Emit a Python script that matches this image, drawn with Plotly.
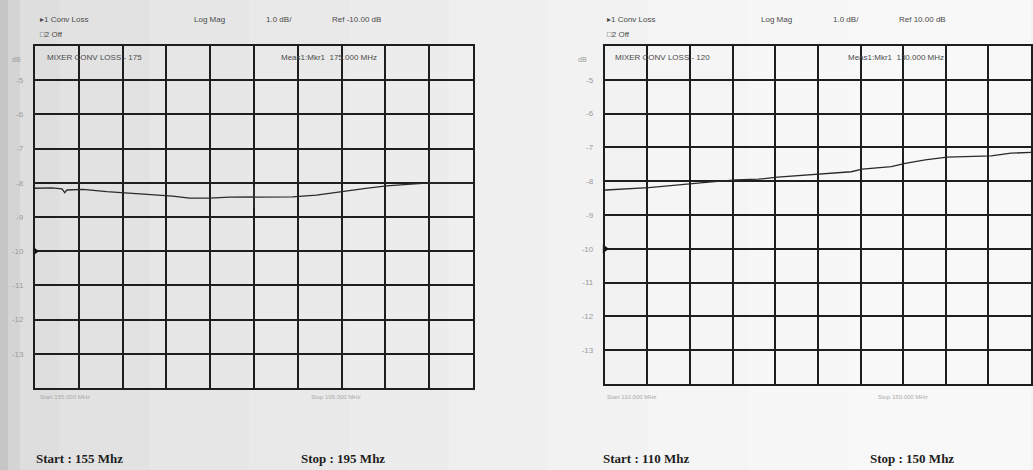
import plotly.graph_objects as go

W, H = 1033, 470

# ---- data ----
left_freq_mhz = [155.0, 156.55, 157.46, 157.73, 157.92, 159.37, 161.56, 163.66, 166.12, 167.57,
                 169.12, 170.95, 172.77, 174.87, 178.5, 180.7, 182.8, 185.2, 187.1, 188.9, 191.0, 195.0]
left_loss_db = [-8.16, -8.15, -8.18, -8.29, -8.21, -8.19, -8.26, -8.31, -8.36, -8.39,
                -8.45, -8.45, -8.42, -8.41, -8.41, -8.36, -8.26, -8.16, -8.09, -8.04, -8.00, -8.01]
left_marker_mhz = [175.0]
left_marker_db = [-8.41]

right_freq_mhz = [110.0, 110.09, 114.12, 118.15, 120.02, 122.27, 124.43, 126.21, 130.23, 133.13,
                  134.17, 136.89, 138.2, 140.07, 142.13, 146.26, 148.13, 150.0]
right_loss_db = [-8.27, -8.26, -8.19, -8.06, -8.02, -7.96, -7.94, -7.88, -7.79, -7.72,
                 -7.64, -7.57, -7.47, -7.37, -7.29, -7.25, -7.17, -7.15]

y_tick_vals = [-5, -6, -7, -8, -9, -10, -11, -12, -13]
y_tick_text = ["-5", "-6", "-7", "-8", "-9", "-10", "-11", "-12", "-13"]
ref_level_db = -10.0

left_header = ["\u25b81 Conv Loss", "Log Mag", "1.0 dB/", "Ref -10.00 dB"]
right_header = ["\u25b81 Conv Loss", "Log Mag", "1.0 dB/", "Ref 10.00 dB"]
left_title, right_title = "MIXER CONV LOSS - 175", "MIXER CONV LOSS - 120"
left_meas, right_meas = "Meas1:Mkr1  175.000 MHz", "Meas1:Mkr1  130.000 MHz"
left_small = ["Start 155.000 MHz", "Stop 195.000 MHz"]
right_small = ["Start 110.000 MHz", "Stop 150.000 MHz"]
left_caption = ["Start : 155 Mhz", "Stop : 195 Mhz"]
right_caption = ["Start : 110 Mhz", "Stop : 150 Mhz"]

fig = go.Figure()
trace_style = dict(mode="lines", line=dict(color="#2a2a2a", width=1.3), showlegend=False, hoverinfo="skip")
fig.add_trace(go.Scatter(x=left_freq_mhz, y=left_loss_db, xaxis="x", yaxis="y", **trace_style))
fig.add_trace(go.Scatter(x=left_marker_mhz, y=left_marker_db, xaxis="x", yaxis="y", mode="markers",
                         marker=dict(symbol="line-ns", size=16, line=dict(color="#333", width=1.6)),
                         showlegend=False, hoverinfo="skip"))
fig.add_trace(go.Scatter(x=right_freq_mhz, y=right_loss_db, xaxis="x2", yaxis="y2", **trace_style))


def px(x):
    return x / W


def py(y):
    return 1 - y / H


grid = dict(showgrid=True, gridcolor="#1e1e1e", gridwidth=1.6, showline=True, linecolor="#1e1e1e",
            linewidth=2, mirror=True, zeroline=False, ticks="")
yax = dict(range=[-14, -4], tickmode="array", tickvals=y_tick_vals, ticktext=y_tick_text,
           tickfont=dict(family="Liberation Sans", size=8, color="#9a9a9a"), ticklabelstandoff=8, **grid)

fig.update_layout(
    width=W, height=H, margin=dict(l=0, r=0, t=0, b=0),
    paper_bgcolor="#f3f3f3", plot_bgcolor="rgba(0,0,0,0)",
    xaxis=dict(domain=[px(35), px(474)], range=[155, 195], dtick=4, tick0=155, showticklabels=False, **grid),
    yaxis=dict(domain=[py(388), py(46)], anchor="x", **yax),
    xaxis2=dict(domain=[px(606), 1.0], range=[110, 150], dtick=4, tick0=110, showticklabels=False,
                anchor="y2", **grid),
    yaxis2=dict(domain=[py(384), py(46)], anchor="x2", **yax),
)

# background scan tones: smooth horizontal fade (paper strips)
edges = [(0, 198), (8, 212), (20, 222), (60, 226), (150, 230), (250, 233), (350, 236), (450, 239),
         (550, 242), (650, 245), (750, 247), (850, 248), (1033, 249)]
for (a, ca), (b, _) in zip(edges[:-1], edges[1:]):
    c = "rgb(%d,%d,%d)" % (ca, ca, ca)
    fig.add_shape(type="rect", xref="paper", yref="paper", x0=px(a), x1=px(b), y0=0, y1=1,
                  fillcolor=c, line=dict(width=0), layer="below")

ann = []
hdr_font = dict(family="Liberation Sans", size=8, color="#4a4a4a")


def txt(x, y, s, font=hdr_font, anchor="left"):
    ann.append(dict(x=px(x), y=py(y), xref="paper", yref="paper", text=s, showarrow=False,
                    xanchor=anchor, yanchor="middle", font=font))


for (x0, hdr, title, meas, small, cap, tx, mx, c2x) in [
    (38, left_header, left_title, left_meas, left_small, left_caption, 45, 280, 300),
    (606, right_header, right_title, right_meas, right_small, right_caption, 614, 848, 870),
]:
    txt(x0, 19, hdr[0])
    txt(x0 + 154, 19, hdr[1])
    txt(x0 + 227, 19, hdr[2])
    txt(x0 + 293, 19, hdr[3])
    txt(x0, 34, "\u25a12 Off")
    txt(tx, 57, title)
    txt(mx, 57, meas)
    txt(x0, 397, small[0], font=dict(family="Liberation Sans", size=6, color="#aaaaaa"))
    txt(x0 + 272, 397, small[1], font=dict(family="Liberation Sans", size=6, color="#aaaaaa"))
    cap_font = dict(family="Liberation Serif", size=13, color="#1e1e1e", weight="bold")
    txt(x0 - 4, 458, "<b>" + cap[0] + "</b>", font=cap_font)
    txt(c2x, 458, "<b>" + cap[1] + "</b>", font=cap_font)

# unit labels
txt(17, 59, "dB", font=dict(family="Liberation Sans", size=7, color="#9a9a9a"), anchor="center")
txt(584, 59, "dB", font=dict(family="Liberation Sans", size=7, color="#9a9a9a"), anchor="center")
fig.update_layout(annotations=ann)

# reference-level arrows
for xa, ya, x0 in [("x", "y", 155), ("x2", "y2", 110)]:
    fig.add_trace(go.Scatter(x=[x0], y=[ref_level_db], xaxis=xa, yaxis=ya, mode="markers", cliponaxis=False,
                             marker=dict(symbol="triangle-right", size=8, color="#111"),
                             showlegend=False, hoverinfo="skip"))

fig.write_html("out.html", config={"displayModeBar": False},
               post_script="document.body.style.margin='0';document.body.style.overflow='hidden';")
